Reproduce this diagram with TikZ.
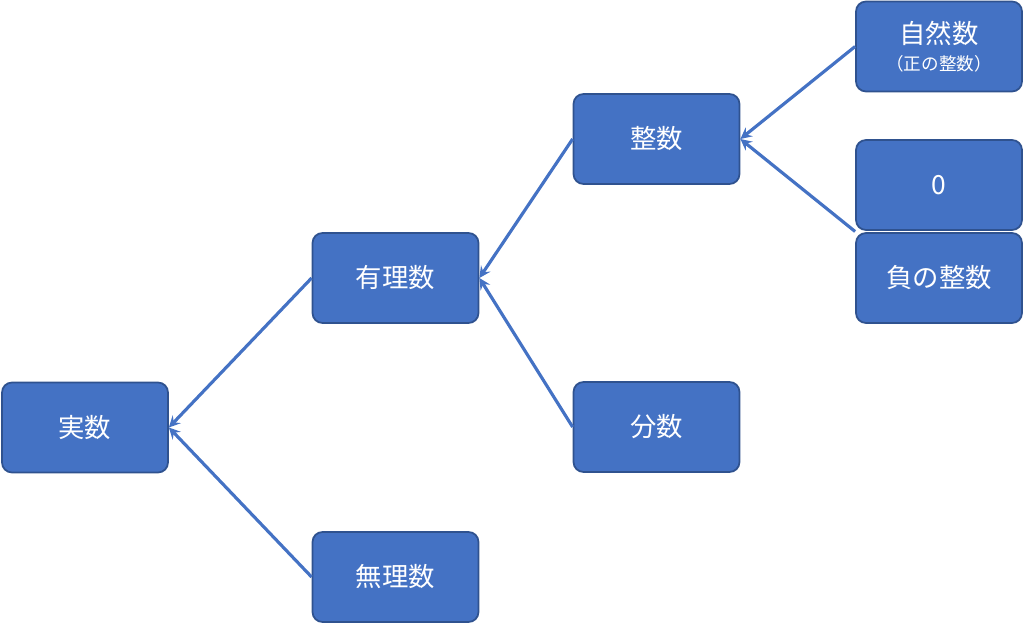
\documentclass[tikz,border=0pt]{standalone}
\usepackage{fontspec}
\setmainfont{Noto Sans CJK JP}
\usetikzlibrary{positioning, calc}
\definecolor{boxfill}{HTML}{4472C4}
\definecolor{boxline}{HTML}{2F528F}
\tikzset{
	box/.style={draw=boxline, fill=boxfill, line width=1pt, rounded corners=0.2cm,
		minimum width=3.32cm, minimum height=1.8cm, inner sep=0pt,
		text=white, font=\fontsize{15}{18}\selectfont, align=center},
	link/.style={->, draw=boxfill, line width=1.8pt}
}
\begin{document}
\begin{tikzpicture}[> = stealth]
	\useasboundingbox (0,0) rectangle (20.48,-12.5);
	% boxes
	\node[box] (real) at (1.70,-8.55) {実数};
	\node[box] (irr) at (7.91,-11.54) {無理数};
	\node[box] (rat) at (7.91,-5.56) {有理数};
	\node[box] (frac) at (13.13,-8.54) {分数};
	\node[box] (int) at (13.13,-2.78) {整数};
	\node[box] (nat) at (18.78,-0.93) {自然数\\[-3pt]{\fontsize{10}{12}\selectfont （正の整数）}};
	\node[box] (zero) at (18.78,-3.70) {0};
	\node[box] (neg) at (18.78,-5.56) {負の整数};
	\coordinate (zn) at ($(zero.south west)!0.5!(neg.north west)$);
	
	% arrows
	\draw[link] (irr.west) -- (real.east);
	\draw[link] (rat.west) -- (real.east);
	\draw[link] (int.west) -- (rat.east);
	\draw[link] (frac.west) -- (rat.east);
	\draw[link] (nat.west) -- (int.east);
	\draw[link] (zn) -- (int.east);
\end{tikzpicture}
\end{document}
